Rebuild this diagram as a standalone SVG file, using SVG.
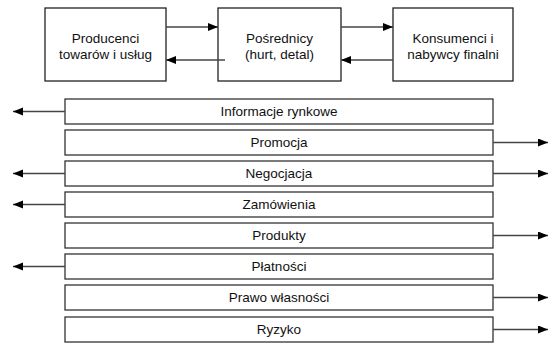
<svg xmlns="http://www.w3.org/2000/svg" width="549" height="344" viewBox="0 0 549 344">
<style>
.box{fill:#fff;stroke:#222;stroke-width:1.3}
.bar{fill:#fff;stroke:#333;stroke-width:1.3}
.t{font-family:"Liberation Sans",Arial,sans-serif;font-size:13.5px;fill:#111;text-anchor:middle}
.c{stroke:#444;stroke-width:1.3;fill:none;marker-end:url(#ah)}
</style>
<defs>
<marker id="ah" markerUnits="userSpaceOnUse" markerWidth="11" markerHeight="9" refX="10" refY="4" orient="auto">
<path d="M0,0 L10,4 L0,8 z" fill="#000"/>
</marker>
</defs>
<rect width="549" height="344" fill="#fff"/>
<g id="producenci"><rect class="box" x="45" y="8" width="121" height="73"/><text class="t" x="105.5" y="43">Producenci</text><text class="t" x="105.5" y="59">towarów i usług</text></g>
<g id="posrednicy"><rect class="box" x="218" y="8" width="123" height="73"/><text class="t" x="279.5" y="43">Pośrednicy</text><text class="t" x="279.5" y="59">(hurt, detal)</text></g>
<g id="konsumenci"><rect class="box" x="393" y="8" width="120" height="73"/><text class="t" x="453" y="43">Konsumenci i</text><text class="t" x="453" y="59">nabywcy finalni</text></g>
<g id="informacje"><rect class="bar" x="65" y="99" width="428" height="25"/><text class="t" x="279" y="116">Informacje rynkowe</text></g>
<g id="promocja"><rect class="bar" x="65" y="130" width="428" height="25"/><text class="t" x="279" y="147">Promocja</text></g>
<g id="negocjacja"><rect class="bar" x="65" y="161" width="428" height="25"/><text class="t" x="279" y="178">Negocjacja</text></g>
<g id="zamowienia"><rect class="bar" x="65" y="192" width="428" height="25"/><text class="t" x="279" y="209">Zamówienia</text></g>
<g id="produkty"><rect class="bar" x="65" y="223" width="428" height="25"/><text class="t" x="279" y="240">Produkty</text></g>
<g id="platnosci"><rect class="bar" x="65" y="254" width="428" height="25"/><text class="t" x="279" y="271">Płatności</text></g>
<g id="prawo"><rect class="bar" x="65" y="285" width="428" height="25"/><text class="t" x="279" y="302">Prawo własności</text></g>
<g id="ryzyko"><rect class="bar" x="65" y="317" width="428" height="25"/><text class="t" x="279" y="334">Ryzyko</text></g>
<g id="connectors">
<line class="c" x1="166" y1="27" x2="218" y2="27"/>
<line class="c" x1="341" y1="27" x2="393" y2="27"/>
<line class="c" x1="225" y1="60" x2="166" y2="60"/>
<line class="c" x1="393" y1="60" x2="341" y2="60"/>
<line class="c" x1="65" y1="111.5" x2="13" y2="111.5"/>
<line class="c" x1="493" y1="142.5" x2="548" y2="142.5"/>
<line class="c" x1="65" y1="173.5" x2="13" y2="173.5"/>
<line class="c" x1="493" y1="173.5" x2="548" y2="173.5"/>
<line class="c" x1="65" y1="204.5" x2="13" y2="204.5"/>
<line class="c" x1="493" y1="235.5" x2="548" y2="235.5"/>
<line class="c" x1="65" y1="266.5" x2="13" y2="266.5"/>
<line class="c" x1="493" y1="297.5" x2="548" y2="297.5"/>
<line class="c" x1="493" y1="329.5" x2="548" y2="329.5"/>
</g>
</svg>
